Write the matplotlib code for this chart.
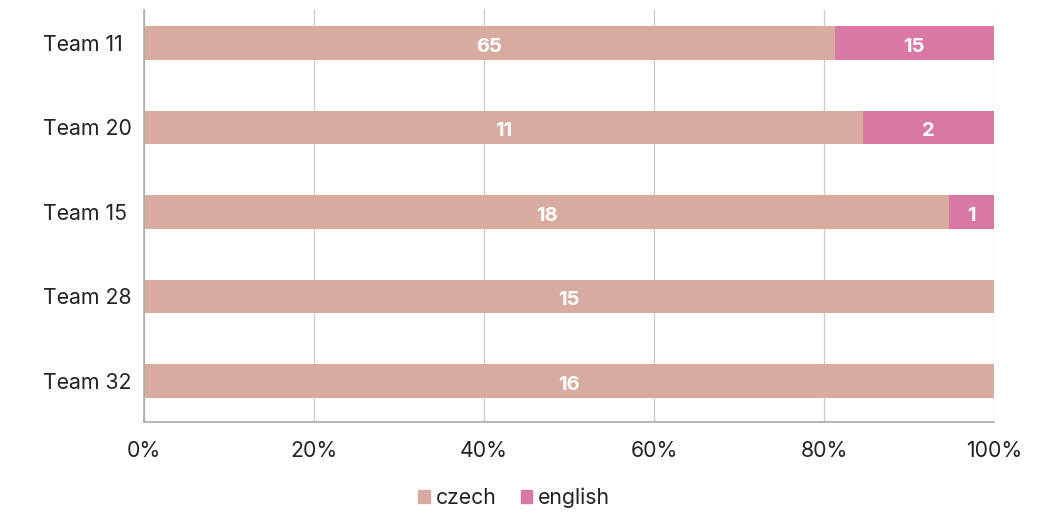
import numpy as np
import matplotlib.pyplot as plt
from matplotlib.patches import Patch

plt.rcParams['font.family'] = ['Inter', 'DejaVu Sans']

teams = ["Team 11", "Team 20", "Team 15", "Team 28", "Team 32"]
czech = [65, 11, 18, 15, 16]
english = [15, 2, 1, 0, 0]

col_cz = "#d8aba0"
col_en = "#d978a4"

cz = np.array(czech, dtype=float)
en = np.array(english, dtype=float)
tot = cz + en
cz_pct = cz / tot * 100
en_pct = en / tot * 100

fig = plt.figure(figsize=(10.61, 5.13), dpi=100)
ax = fig.add_axes([144 / 1061, 1 - 422 / 513, 850 / 1061, 412 / 513])

y = np.arange(len(teams))
h = 0.40
ax.barh(y, cz_pct, height=h, color=col_cz, zorder=2)
ax.barh(y, en_pct, left=cz_pct, height=h, color=col_en, zorder=2)

for i in range(len(teams)):
    ax.text(cz_pct[i] / 2, y[i] + 0.02, str(czech[i]), ha="center", va="center_baseline",
            color="white", fontsize=14.5, fontweight="bold", zorder=3)
    if english[i] > 0:
        ax.text(cz_pct[i] + en_pct[i] / 2, y[i] + 0.02, str(english[i]), ha="center",
                va="center_baseline", color="white", fontsize=14.5, fontweight="bold", zorder=3)

ax.set_xlim(0, 100)
ax.set_ylim(4.485, -0.39)
ax.set_xticks(np.arange(0, 101, 20))
ax.set_xticklabels([f"{v}%" for v in range(0, 101, 20)])
ax.set_yticks(y)
ax.set_yticklabels(teams, ha="left")
ax.tick_params(axis="y", length=0, pad=73, labelsize=15.3, labelcolor="#222222")
ax.tick_params(axis="x", length=0, pad=14, labelsize=15.3, labelcolor="#222222")

ax.grid(axis="x", color="#cccccc", linewidth=1, zorder=0)
ax.grid(axis="y", visible=False)
for s in ["top", "right"]:
    ax.spines[s].set_visible(False)
ax.spines["left"].set_color("#aaaaaa")
ax.spines["bottom"].set_color("#aaaaaa")
ax.spines["left"].set_linewidth(1.2)
ax.spines["bottom"].set_linewidth(1.2)

handles = [Patch(color=col_cz, label="czech"), Patch(color=col_en, label="english")]
fig.legend(handles=handles, loc="center", bbox_to_anchor=(514 / 1061, 1 - 498 / 513), ncol=2,
           frameon=False, fontsize=15.3, handlelength=0.55, handleheight=0.55,
           handletextpad=0.25, columnspacing=1.15, labelcolor="#222222")

fig.savefig("out.png", dpi=100)
